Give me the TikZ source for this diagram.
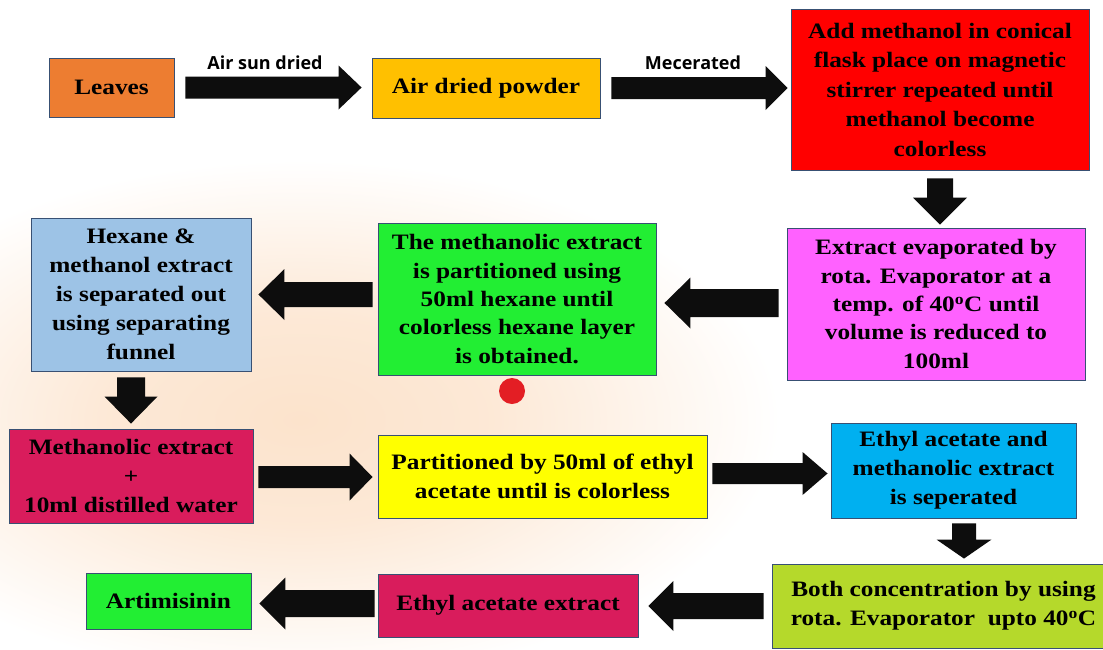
\documentclass[tikz,border=0pt]{standalone}
\usepackage{fontspec}
\setmainfont{Liberation Serif}[FakeStretch=1.15]
\newfontfamily\labelfont{Open Sans}
\usetikzlibrary{calc}

\definecolor{boxline}{RGB}{56,80,115}
\definecolor{arrowc}{HTML}{0D0D0D}
\definecolor{leafc}{HTML}{ED7D31}
\definecolor{powderc}{HTML}{FFC000}
\definecolor{redc}{HTML}{FF0000}
\definecolor{pinkc}{HTML}{FF61FF}
\definecolor{greenc}{HTML}{22EE33}
\definecolor{bluec}{HTML}{9DC3E6}
\definecolor{crimsonc}{HTML}{D91C5C}
\definecolor{yellowc}{HTML}{FFFF00}
\definecolor{cyanc}{HTML}{00B0F0}
\definecolor{limec}{HTML}{B5D92B}
\definecolor{dotc}{HTML}{E31E24}
\definecolor{glowc}{HTML}{FCE3CC}

\pgfdeclareradialshading{softglow}{\pgfpoint{0bp}{0bp}}{%
  color(0bp)=(glowc); color(10bp)=(glowc!80!white); color(25bp)=(white); color(50bp)=(white)}

% block arrow: #1 start, #2 tip, #3 half shaft width, #4 half head width, #5 head length
\newcommand\blockarrow[5]{%
  \coordinate (ba-h) at ($(#2)!#5!(#1)$);
  \fill[arrowc] ($(#1)!#3!90:(#2)$) -- ($(ba-h)!#3!90:(#2)$) -- ($(ba-h)!#4!90:(#2)$)
    -- (#2) -- ($(ba-h)!#4!-90:(#2)$) -- ($(ba-h)!#3!-90:(#2)$)
    -- ($(#1)!#3!-90:(#2)$) -- cycle;}

\begin{document}
\begin{tikzpicture}[x=1pt,y=-1pt,
  box/.style={draw=boxline, line width=0.9pt, inner sep=0pt, align=center,
    font=\bfseries\fontsize{22}{29}\selectfont},
  lbl/.style={font=\labelfont\bfseries\fontsize{18}{20}\selectfont, inner sep=0pt}]
\useasboundingbox (0,0) rectangle (1103,649);
\fill[white] (0,0) rectangle (1103,649);
\shade[shading=softglow] (300,420) ellipse [x radius=480pt, y radius=260pt];

% process steps
\node[box, fill=leafc, minimum width=125pt, minimum height=59pt] (leaves) at (111.5,87.5) {Leaves};
\node[box, fill=powderc, minimum width=228pt, minimum height=60pt] (powder) at (486,88) {Air dried powder};
\node[box, fill=redc, minimum width=298pt, minimum height=161pt, font=\bfseries\fontsize{22}{29.5}\selectfont] (methadd) at (940,89.5)
  {Add methanol in conical\\flask place on magnetic\\stirrer repeated until\\methanol become\\colorless};
\node[box, fill=pinkc, minimum width=298pt, minimum height=152pt, font=\bfseries\fontsize{22}{28.3}\selectfont] (evap) at (936,304)
  {Extract evaporated by\\rota. Evaporator at a\\temp. of 40\textsuperscript{o}C until\\volume is reduced to\\100ml};
\node[box, fill=greenc, minimum width=278pt, minimum height=152pt, font=\bfseries\fontsize{22}{28.3}\selectfont] (hexpart) at (517,299)
  {The methanolic extract\\is partitioned using\\50ml hexane until\\colorless hexane layer\\is obtained.};
\node[box, fill=bluec, minimum width=220pt, minimum height=153pt] (sepfun) at (141,294.5)
  {Hexane \&\\methanol extract\\is separated out\\using separating\\funnel};
\node[box, fill=crimsonc, minimum width=244pt, minimum height=94pt] (mext) at (131,476)
  {Methanolic extract\\+\\10ml distilled water};
\node[box, fill=yellowc, minimum width=329pt, minimum height=83pt] (ethpart) at (542.5,476.5)
  {Partitioned by 50ml of ethyl\\acetate until is colorless};
\node[box, fill=cyanc, minimum width=245pt, minimum height=95pt] (ethsep) at (953.5,470.5)
  {Ethyl acetate and\\methanolic extract\\is seperated};
\node[box, fill=limec, minimum width=343pt, minimum height=84pt] (conc) at (943.5,606)
  {Both concentration by using\\rota. Evaporator\ \ upto 40\textsuperscript{o}C};
\node[box, fill=crimsonc, minimum width=260pt, minimum height=63pt] (ethext) at (508,605.5) {Ethyl acetate extract};
\node[box, fill=greenc, minimum width=165pt, minimum height=56pt] (arte) at (168.5,601) {Artimisinin};

\node[circle, fill=dotc, minimum size=26pt, inner sep=0pt] (dot) at (512,391) {};

% arrow labels
\node[lbl] (lab1) at (265,63) {Air sun dried};
\node[lbl] (lab2) at (693,63) {Mecerated};

% connectors
\coordinate (a1s) at ($(leaves.east)+(11,0)$);
\coordinate (a1e) at ($(a1s -| powder.west)+(-10,0)$);
\blockarrow{a1s}{a1e}{11pt}{22pt}{23pt}

\coordinate (a2s) at ($(powder.east)+(11,0)$);
\coordinate (a2e) at ($(a2s -| methadd.west)+(-3,0)$);
\blockarrow{a2s}{a2e}{11pt}{22pt}{22pt}

\coordinate (a3s) at ($(methadd.south)+(0,8)$);
\coordinate (a3e) at ($(a3s |- evap.north)+(0,-3)$);
\blockarrow{a3s}{a3e}{13pt}{27pt}{27pt}

\coordinate (a4s) at ($(evap.west)+(-8,-1)$);
\coordinate (a4e) at ($(a4s -| hexpart.east)+(8,0)$);
\blockarrow{a4s}{a4e}{14pt}{25.5pt}{26pt}

\coordinate (a5s) at ($(hexpart.west)+(-5,-4.5)$);
\coordinate (a5e) at ($(a5s -| sepfun.east)+(7,0)$);
\blockarrow{a5s}{a5e}{12.5pt}{25.5pt}{26pt}

\coordinate (a6s) at ($(sepfun.south)+(-10,6)$);
\coordinate (a6e) at ($(a6s |- mext.north)+(0,-5)$);
\blockarrow{a6s}{a6e}{14pt}{26.5pt}{27pt}

\coordinate (a7s) at ($(mext.east)+(5,1)$);
\coordinate (a7e) at ($(a7s -| ethpart.west)+(-5,0)$);
\blockarrow{a7s}{a7e}{11pt}{23.5pt}{23pt}

\coordinate (a8s) at ($(ethpart.east)+(5,-3)$);
\coordinate (a8e) at ($(a8s -| ethsep.west)+(-3,0)$);
\blockarrow{a8s}{a8e}{10.5pt}{21.5pt}{25pt}

\coordinate (a9s) at ($(ethsep.south)+(10.5,5)$);
\coordinate (a9e) at ($(a9s |- conc.north)+(0,-5)$);
\blockarrow{a9s}{a9e}{12pt}{27.5pt}{19pt}

\coordinate (a10s) at ($(conc.west)+(-8,0)$);
\coordinate (a10e) at ($(a10s -| ethext.east)+(10,0)$);
\blockarrow{a10s}{a10e}{13pt}{25pt}{25pt}

\coordinate (a11s) at ($(ethext.west)+(-3,-2)$);
\coordinate (a11e) at ($(a11s -| arte.east)+(8,0)$);
\blockarrow{a11s}{a11e}{13.5pt}{26pt}{26pt}
\end{tikzpicture}
\end{document}
